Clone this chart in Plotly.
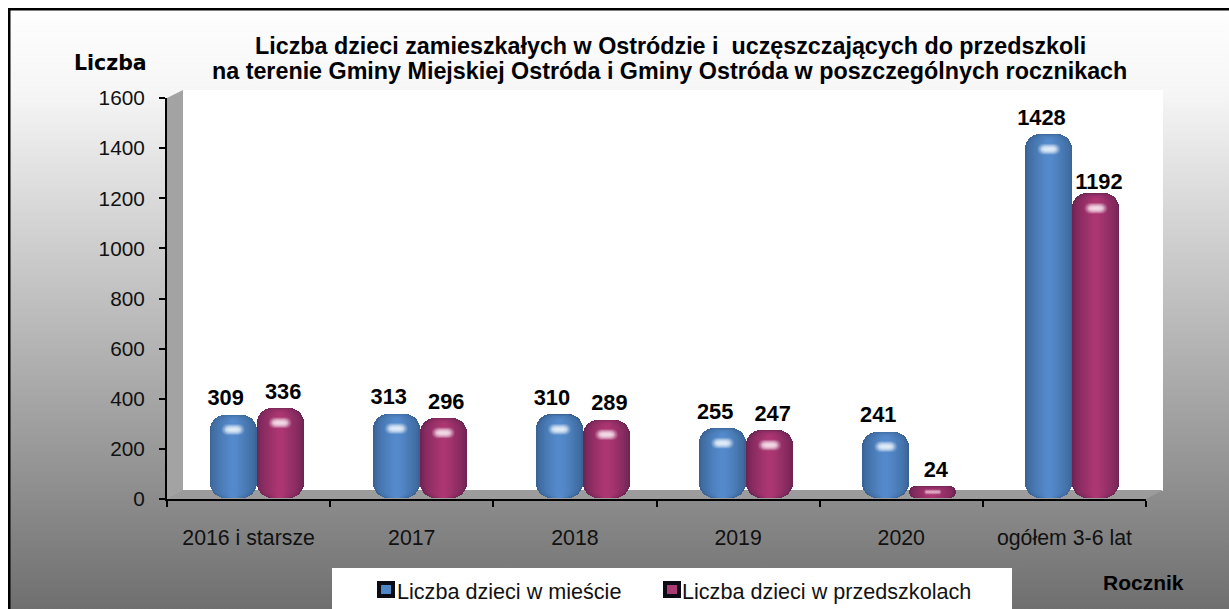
import base64
import plotly.graph_objects as go

categories = ["2016 i starsze", "2017", "2018", "2019", "2020", "ogółem 3-6 lat"]
city_children = [309, 313, 310, 255, 241, 1428]
preschool_children = [336, 296, 289, 247, 24, 1192]
series_names = ["Liczba dzieci w mieście", "Liczba dzieci w przedszkolach"]
y_ticks = [0, 200, 400, 600, 800, 1000, 1200, 1400, 1600]

W, H = 1229, 609
L, R, T, B = 167, 1146, 98, 499
PW, PH = R - L, B - T
CAT_PX = PW / 6
FONT = "Liberation Sans, Arial, sans-serif"


def px(x):
    return (x - L) / PW


def py(y):
    return (B - y) / PH


def mix(a, b, t):
    return "#%02x%02x%02x" % tuple(round(a[i] + (b[i] - a[i]) * t) for i in range(3))


fig = go.Figure()

BAR_W = 47
DEPTH = 28      # apparent 3D lift of a bar top, in value units
BASE = 4
styles = [
    dict(values=city_children, left=-39, dark=(58, 100, 150), light=(84, 138, 204), legend="#4f86c6", glow="#f4fbff", lab=-7.5),
    dict(values=preschool_children, left=8, dark=(112, 36, 84), light=(172, 54, 114), legend="#a93a74", glow="#fff0f8", lab=3),
]
LAYERS = 12
for s in styles:
    for k in range(LAYERS):
        inset = k * 1.9
        t = (k / (LAYERS - 1)) ** 0.7
        drop = [min(0.5 * (v + DEPTH - BASE), 0.9 * k * (1 + k * 0.10)) for v in s["values"]]
        fig.add_trace(go.Bar(
            x=categories,
            y=[v + DEPTH - BASE - d for v, d in zip(s["values"], drop)],
            base=BASE,
            width=(BAR_W - 2 * inset) / CAT_PX,
            offset=(s["left"] + inset) / CAT_PX,
            marker=dict(color=mix(s["dark"], s["light"], t), line_width=0,
                        cornerradius=max(2, 15 - k)),
            showlegend=False, hoverinfo="skip",
        ))

# Glints and value labels use a hidden numeric x axis over the same span
for s in styles:
    cx = (s["left"] + BAR_W / 2) / CAT_PX
    gx, gy, gs = [], [], []
    for i, v in enumerate(s["values"]):
        tall = v > 100
        for dx in (-6, -3, 0, 3, 6):
            gx.append(i + cx + dx / CAT_PX)
            gy.append(v + DEPTH - (60 if tall else 24))
            gs.append(12 if tall else 6)
    fig.add_trace(go.Scatter(
        x=gx, y=gy, xaxis="x2", mode="markers", showlegend=False, hoverinfo="skip",
        marker=dict(size=gs, color="rgba(255,255,255,0)", line_width=0,
                    gradient=dict(type="radial", color=s["glow"])),
    ))

label_lift = {1192: -20}
for s in styles:
    cx = (s["left"] + BAR_W / 2 + s["lab"]) / CAT_PX
    fig.add_trace(go.Scatter(
        x=[i + cx for i in range(6)],
        y=[v + DEPTH + 58 + label_lift.get(v, 0) for v in s["values"]],
        xaxis="x2", mode="text", text=[str(v) for v in s["values"]],
        textposition="middle center",
        textfont=dict(family=FONT, size=21.8, color="#000000", weight="bold"),
        showlegend=False, hoverinfo="skip",
    ))

for name, s, lg in zip(series_names, styles, ("legend", "legend2")):
    fig.add_trace(go.Scatter(
        x=[None], y=[None], name=name, mode="markers", xaxis="x2", legend=lg,
        marker=dict(symbol="square", size=1, color="rgba(0,0,0,0)", line_width=0),
    ))

grad = (
    '<svg xmlns="http://www.w3.org/2000/svg" width="1229" height="609" preserveAspectRatio="none">'
    '<defs><linearGradient id="g" x1="0" y1="0" x2="0" y2="1">'
    '<stop offset="0" stop-color="#ffffff"/><stop offset="0.15" stop-color="#f6f6f6"/>'
    '<stop offset="1" stop-color="#6f6f6f"/></linearGradient></defs>'
    '<rect width="1229" height="609" fill="url(#g)"/></svg>'
)
bg_uri = "data:image/svg+xml;base64," + base64.b64encode(grad.encode()).decode()


def poly(points, fill):
    path = "M" + " L".join(f"{px(x):.5f},{py(y):.5f}" for x, y in points) + " Z"
    return dict(type="path", xref="paper", yref="paper", path=path, fillcolor=fill,
                line_width=0, layer="below")


def box(x0, y0, x1, y1, fill, layer="above"):
    return dict(type="rect", xref="paper", yref="paper", x0=px(x0), x1=px(x1), y0=py(y0), y1=py(y1),
                fillcolor=fill, line_width=0, layer=layer)


shapes = [
    poly([(183, 90), (1163, 90), (1163, 491), (183, 491)], "#ffffff"),
    poly([(167, 98), (183, 90), (183, 491), (167, 499)], "#a3a3a3"),
    poly([(167, 499), (183, 490), (1163, 490), (1146, 499)], "#9c9c9c"),
    poly([(332, 568), (1012, 568), (1012, 609), (332, 609)], "#ffffff"),
    poly([(8, 8), (1229, 8), (1229, 10.5), (8, 10.5)], "#000000"),
    poly([(8, 8), (10.5, 8), (10.5, 609), (8, 609)], "#000000"),
    poly([(0, 0), (1229, 0), (1229, 8), (0, 8)], "#ffffff"),
    poly([(0, 0), (8, 0), (8, 609), (0, 609)], "#ffffff"),
]
for x0, s in zip((377, 663), styles):
    shapes += [box(x0, 581, x0 + 18, 598, "#0b0b16"),
               box(x0 + 4, 585, x0 + 14, 594, s["legend"])]


def note(text, x, y, size, anchor="center", family=FONT, bold=True, color="#000000"):
    return dict(text=text, x=px(x), y=py(y), xref="paper", yref="paper", showarrow=False,
                xanchor=anchor, yanchor="middle", align="center",
                font=dict(family=family, size=size, color=color, weight="bold" if bold else "normal"))


annotations = [
    note("Liczba dzieci zamieszkałych w Ostródzie i\u00a0 uczęszczających do przedszkoli", 670, 46, 23.3),
    note("na terenie Gminy Miejskiej Ostróda i Gminy Ostróda w poszczególnych rocznikach", 669, 71, 23.3),
    note("Liczba", 110, 63, 20.5, family="DejaVu Sans, sans-serif"),
    note("Rocznik", 1143, 582, 21),
]


def legend_at(x):
    return dict(orientation="h", xref="container", yref="container",
                x=x / W, y=1 - 570 / H, xanchor="left", yanchor="top",
                bgcolor="rgba(0,0,0,0)", borderwidth=0,
                font=dict(size=21.6, color="#111111", family=FONT),
                itemsizing="constant", itemwidth=30)


fig.update_layout(
    width=W, height=H, autosize=False,
    margin=dict(l=L, r=W - R, t=T, b=H - B, pad=0),
    paper_bgcolor="#ffffff", plot_bgcolor="rgba(0,0,0,0)",
    barmode="overlay", bargap=0,
    font=dict(family=FONT, color="#111111"),
    images=[dict(source=bg_uri, xref="paper", yref="paper", x=px(0), y=py(0),
                 sizex=W / PW, sizey=H / PH, sizing="stretch", layer="below",
                 xanchor="left", yanchor="top")],
    shapes=shapes, annotations=annotations,
    xaxis=dict(type="category", categoryorder="array", categoryarray=categories,
               range=[-0.5, 5.5], tickson="boundaries", ticks="outside", ticklen=6, tickwidth=2,
               tickcolor="#000000", showline=True, linecolor="#000000", linewidth=2,
               showgrid=False, zeroline=False, fixedrange=True,
               ticklabelstandoff=18, tickfont=dict(size=21.3, color="#111111", family=FONT)),
    xaxis2=dict(type="linear", overlaying="x", range=[-0.5, 5.5], visible=False, fixedrange=True),
    yaxis=dict(range=[0, 1600], tickmode="array", tickvals=y_ticks, ticks="outside", ticklen=6,
               tickwidth=2, tickcolor="#000000", showline=True, linecolor="#000000", linewidth=2,
               showgrid=False, zeroline=False, fixedrange=True,
               ticklabelstandoff=10, tickfont=dict(size=20.8, color="#111111", family=FONT)),
    legend=legend_at(357), legend2=legend_at(642),
    showlegend=True,
)

fig.write_html("out.html", config=dict(displayModeBar=False),
               post_script="document.body.style.margin='0';document.body.style.overflow='hidden';")
